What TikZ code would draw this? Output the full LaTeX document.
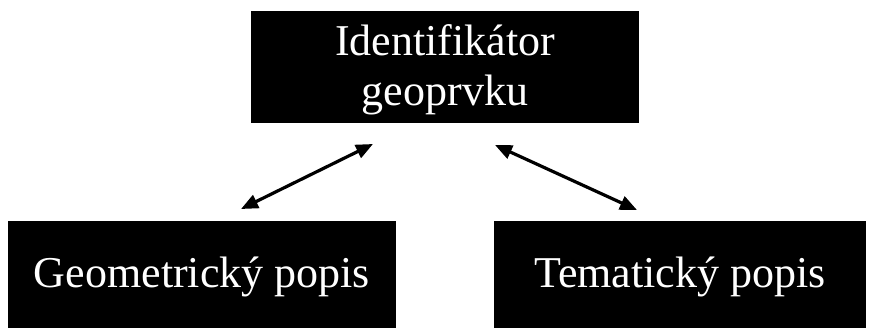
\documentclass[tikz,border=0pt]{standalone}
\usepackage{fontspec}
\setmainfont{Liberation Serif}
\usetikzlibrary{arrows.meta}

\tikzset{
	blackbox/.style={draw=none, fill=black, text=white, align=center, inner sep=0pt,
		font=\fontsize{44}{50}\selectfont},
	twoway/.style={line width=3.2pt, {Triangle[length=17pt,width=14pt]}-{Triangle[length=17pt,width=14pt]}}
}

\begin{document}
\begin{tikzpicture}[x=1pt, y=-1pt]
			%%%%% START %%%%%
			
			\useasboundingbox (0, 0) rectangle (870, 327);
			
			\node[blackbox, minimum width=388pt, minimum height=112pt, text depth=4pt] (ident) at (445, 67) {Identifikátor\\geoprvku};
			\node[blackbox, minimum width=388pt, minimum height=112pt] (geom) at (202, 277) {Geometrický popis};
			\node[blackbox, minimum width=372pt, minimum height=112pt] (tema) at (680, 277) {Tematický popis};
			
			\coordinate (identL) at (373, 144);
			\coordinate (identR) at (495, 145);
			\coordinate (geomT) at (241, 209);
			\coordinate (temaT) at (637, 210);
			
			\draw[twoway] (geomT) -- (identL);
			\draw[twoway] (identR) -- (temaT);
			
			%%%%% END %%%%%
\end{tikzpicture}
\end{document}
